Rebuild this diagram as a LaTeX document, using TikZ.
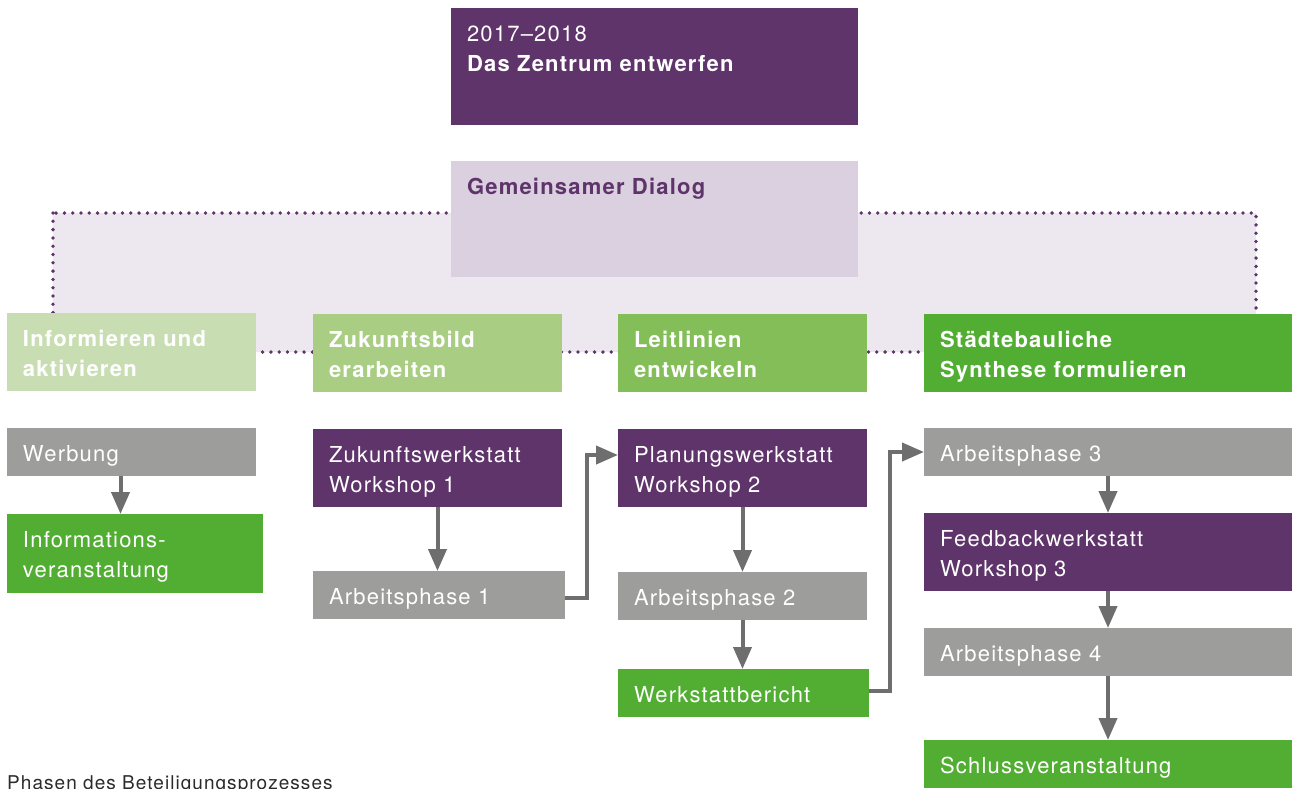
\documentclass[tikz,border=0pt]{standalone}
\usepackage{fontspec}
\setmainfont{TeX Gyre Heros}[LetterSpace=5.5]
\newfontfamily\capfont{TeX Gyre Heros}[LetterSpace=5.5]
\usetikzlibrary{arrows.meta,calc}
\definecolor{purp}{HTML}{5E346A}
\definecolor{dialogfill}{HTML}{DBD0DF}
\definecolor{regionfill}{HTML}{EDE7EF}
\definecolor{gA}{HTML}{C8DEB2}
\definecolor{gB}{HTML}{A8CD83}
\definecolor{gC}{HTML}{83BE59}
\definecolor{gD}{HTML}{52AE33}
\definecolor{greybox}{HTML}{9D9D9C}
\definecolor{arrowgrey}{HTML}{6E6E6E}
\definecolor{captext}{HTML}{2B2B2B}
\tikzset{
  boxshape/.style={rectangle, inner sep=0pt, outer sep=0pt, anchor=north west},
  lbl/.style={inner sep=0pt, outer sep=0pt, anchor=base west, text width=400pt, align=left,
    text=white, font=\fontsize{22}{30}\selectfont},
  arr/.style={draw=arrowgrey, line width=4pt, -{Triangle[width=18pt,length=22pt]}},
  dots/.style={draw=purp, line width=3.8pt, line cap=round, dash pattern=on 0pt off 8.3pt}
}
\newcommand\pbox[7]{%
  \node[boxshape, fill=#6, minimum width=#4, minimum height=#5] (#1) at (#2,#3) {};
  \node[lbl] (#1t) at ($(#1.north west)+(16,33.5)$) {#7};
}
\begin{document}
\begin{tikzpicture}[x=1pt,y=-1pt]
\useasboundingbox (0,0) rectangle (1292,788);
% dotted region
\fill[regionfill] (53,213) rectangle (1256,352);
\draw[dots] (53,213) rectangle (1256,352);
% boxes
\pbox{top}{451}{8}{407}{117}{purp}{2017–2018\\\textbf{Das Zentrum entwerfen}}
\pbox{dlg}{451}{161}{407}{116}{dialogfill}{\textcolor{purp}{\textbf{Gemeinsamer Dialog}}}
\pbox{pa}{7}{313}{249}{78}{gA}{\textbf{Informieren und}\\\textbf{aktivieren}}
\pbox{pb}{313}{314}{249}{78}{gB}{\textbf{Zukunftsbild}\\\textbf{erarbeiten}}
\pbox{pc}{618}{314}{249}{78}{gC}{\textbf{Leitlinien}\\\textbf{entwickeln}}
\pbox{pd}{924}{314}{368}{78}{gD}{\textbf{Städtebauliche}\\\textbf{Synthese formulieren}}
\pbox{wer}{7}{428}{249}{48}{greybox}{Werbung}
\pbox{info}{7}{514}{256}{79}{gD}{Informations-\\veranstaltung}
\pbox{zw}{313}{429}{249}{78}{purp}{Zukunftswerkstatt\\Workshop 1}
\pbox{apa}{313}{571}{252}{48}{greybox}{Arbeitsphase 1}
\pbox{pw}{618}{429}{249}{78}{purp}{Planungswerkstatt\\Workshop 2}
\pbox{apb}{618}{572}{249}{48}{greybox}{Arbeitsphase 2}
\pbox{wb}{618}{669}{251}{48}{gD}{Werkstattbericht}
\pbox{apc}{924}{428}{368}{48}{greybox}{Arbeitsphase 3}
\pbox{fb}{924}{513}{368}{78}{purp}{Feedbackwerkstatt\\Workshop 3}
\pbox{apd}{924}{628}{368}{48}{greybox}{Arbeitsphase 4}
\pbox{sv}{924}{740}{368}{48}{gD}{Schlussveranstaltung}
% connectors
\coordinate (cx) at (120.5,0);
\coordinate (ca) at (587,598);
\coordinate (cb) at (890,691);
\draw[arr] (wer.south -| cx) -- (info.north -| cx);
\draw[arr] (zw.south) -- (zw.south |- apa.north);
\draw[arr] (apa.east |- ca) -- (ca) |- ([yshift=-26pt]pw.north west);
\draw[arr] (pw.south) -- (pw.south |- apb.north);
\draw[arr] (apb.south) -- (apb.south |- wb.north);
\draw[arr] (wb.east |- cb) -- (cb) |- (apc.west);
\draw[arr] (apc.south) -- (fb.north);
\draw[arr] (fb.south) -- (apd.north);
\draw[arr] (apd.south) -- (sv.north);
% caption
\node[inner sep=0pt, anchor=base west, text=captext, font=\capfont\fontsize{19}{23}\selectfont] (cap) at (7,789) {Phasen des Beteiligungsprozesses};
\end{tikzpicture}
\end{document}
